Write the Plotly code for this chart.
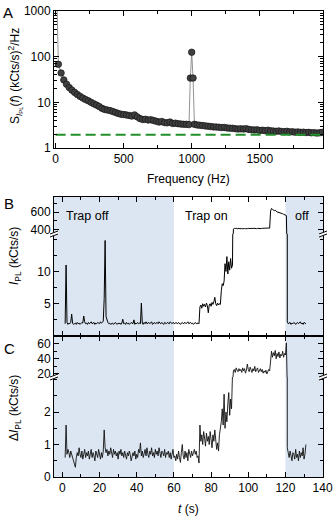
import plotly.graph_objects as go

FONT = "Liberation Sans, Arial, sans-serif"

# ---- panel A: noise spectrum ----
freq = [8,
        20, 40, 60, 80, 100, 120, 140, 160, 180, 200,
        220, 240, 260, 280, 300, 320, 340, 360, 380, 400,
        420, 440, 460, 480, 500, 520, 540, 560, 580, 600,
        620, 640, 660, 680, 700, 720, 740, 760, 780, 800,
        820, 840, 860, 880, 900, 920, 940, 960, 980,
        990, 1000, 1010,
        1020, 1040, 1060, 1080, 1100, 1120, 1140, 1160, 1180, 1200,
        1220, 1240, 1260, 1280, 1300, 1320, 1340, 1360, 1380, 1400,
        1420, 1440, 1460, 1480, 1500, 1520, 1540, 1560, 1580, 1600,
        1620, 1640, 1660, 1680, 1700, 1720, 1740, 1760, 1780, 1800,
        1820, 1840, 1860, 1880, 1900, 1920, 1940, 1960]
psd = [3000,
       68, 44, 31, 25, 21, 18.5, 16.5, 14.8, 13.5, 12.4,
       11.5, 10.8, 10.0, 9.3, 8.7, 8.1, 7.4, 7.0, 6.8, 6.6,
       6.3, 6.0, 5.7, 5.5, 5.4, 5.3, 5.15, 5.0, 5.3, 4.8,
       4.4, 4.2, 4.25, 4.1, 4.15, 4.0, 3.85, 3.7, 3.8, 3.6,
       3.55, 3.7, 3.45, 3.5, 3.4, 3.35, 3.3, 3.3, 3.25,
       34, 125, 34,
       3.3, 3.2, 3.15, 3.1, 3.05, 3.0, 2.95, 2.9, 2.88, 2.85,
       2.8, 2.82, 2.75, 2.72, 2.7, 2.65, 2.6, 2.63, 2.6, 2.65,
       2.55, 2.5, 2.48, 2.5, 2.42, 2.45, 2.4, 2.45, 2.38, 2.35,
       2.32, 2.36, 2.3, 2.28, 2.32, 2.25, 2.27, 2.22, 2.25, 2.2,
       2.22, 2.18, 2.2, 2.15, 2.17, 2.12, 2.15, 2.2]
shot_noise_level = 1.95
freq_span = [0, 1965]

# ---- panels B and C: time traces ----
t = [1.5, 2.0, 2.5, 3.0, 3.5, 4.0, 4.5, 5.0, 5.5, 6.0,
     6.5, 7.0, 7.5, 8.0, 8.5, 9.0, 9.5, 10.0, 10.5, 11.0,
     11.5, 12.0, 12.5, 13.0, 13.5, 14.0, 14.5, 15.0, 15.5, 16.0,
     16.5, 17.0, 17.5, 18.0, 18.5, 19.0, 19.5, 20.0, 20.5, 21.0,
     21.5, 22.0, 22.5, 23.0, 23.5, 24.0, 24.5, 25.0, 25.5, 26.0,
     26.5, 27.0, 27.5, 28.0, 28.5, 29.0, 29.5, 30.0, 30.5, 31.0,
     31.5, 32.0, 32.5, 33.0, 33.5, 34.0, 34.5, 35.0, 35.5, 36.0,
     36.5, 37.0, 37.5, 38.0, 38.5, 39.0, 39.5, 40.0, 40.5, 41.0,
     41.5, 42.0, 42.5, 43.0, 43.5, 44.0, 44.5, 45.0, 45.5, 46.0,
     46.5, 47.0, 47.5, 48.0, 48.5, 49.0, 49.5, 50.0, 50.5, 51.0,
     51.5, 52.0, 52.5, 53.0, 53.5, 54.0, 54.5, 55.0, 55.5, 56.0,
     56.5, 57.0, 57.5, 58.0, 58.5, 59.0, 59.5, 60.0, 60.5, 61.0,
     61.5, 62.0, 62.5, 63.0, 63.5, 64.0, 64.5, 65.0, 65.5, 66.0,
     66.5, 67.0, 67.5, 68.0, 68.5, 69.0, 69.5, 70.0, 70.5, 71.0,
     71.5, 72.0, 72.5, 73.0, 73.5, 74.0, 74.5, 75.0, 75.5, 76.0,
     76.5, 77.0, 77.5, 78.0, 78.5, 79.0, 79.5, 80.0, 80.5, 81.0,
     81.5, 82.0, 82.5, 83.0, 83.5, 84.0, 84.5, 85.0, 85.5, 86.0,
     86.5, 87.0, 87.5, 88.0, 88.5, 89.0, 89.5, 90.0, 90.5, 91.0,
     91.5, 92.0, 92.5, 93.0, 93.5, 94.0, 94.5, 95.0, 95.5, 96.0,
     96.5, 97.0, 97.5, 98.0, 98.5, 99.0, 99.5, 100.0, 100.5, 101.0,
     101.5, 102.0, 102.5, 103.0, 103.5, 104.0, 104.5, 105.0, 105.5, 106.0,
     106.5, 107.0, 107.5, 108.0, 108.5, 109.0, 109.5, 110.0, 110.5, 111.0,
     111.5, 112.0, 112.5, 113.0, 113.5, 114.0, 114.5, 115.0, 115.5, 116.0,
     116.5, 117.0, 117.5, 118.0, 118.5, 119.0, 119.5, 120.0, 120.5, 121.0,
     121.5, 122.0, 122.5, 123.0, 123.5, 124.0, 124.5, 125.0, 125.5, 126.0,
     126.5, 127.0, 127.5, 128.0, 128.5, 129.0, 129.5, 130.0, 130.5, 131.0]

ipl = [1.9, 11.0, 2.1, 1.8, 2.0, 1.9, 2.1, 3.4, 2.0, 1.8,
       1.9, 2.0, 1.8, 2.1, 1.9, 2.0, 1.8, 1.9, 2.1, 2.0,
       3.1, 2.2, 1.9, 2.0, 1.8, 2.1, 1.9, 2.0, 2.2, 1.9,
       2.0, 2.1, 1.8, 2.0, 1.9, 2.1, 2.0, 1.9, 2.2, 2.0,
       2.1, 2.3, 5.8, 14.8, 3.0, 2.3, 2.1, 1.9, 2.0, 1.8,
       1.9, 2.0, 1.8, 1.9, 2.1, 1.9, 1.8, 2.0, 1.9, 2.0,
       1.8, 2.0, 2.6, 1.9, 2.0, 1.8, 2.1, 1.9, 2.0, 1.8,
       1.9, 2.1, 2.0, 1.9, 2.5, 1.8, 2.0, 1.9, 2.1, 1.9,
       2.0, 1.9, 5.1, 2.0, 1.8, 2.1, 1.9, 2.2, 1.9, 2.0,
       2.1, 1.9, 2.0, 2.2, 1.8, 2.0, 2.1, 1.9, 2.0, 2.1,
       1.9, 2.2, 2.0, 1.9, 2.1, 2.0, 1.8, 2.1, 2.0, 1.9,
       2.1, 2.0, 1.9, 2.2, 2.0, 1.9, 2.1, 2.0, 1.9, 2.1,
       2.0, 1.9, 2.1, 2.0, 1.8, 2.0, 2.1, 1.9, 2.0, 2.1,
       1.9, 2.0, 2.2, 1.9, 2.0, 2.1, 1.9, 2.0, 1.8, 2.0,
       2.1, 1.9, 2.0, 2.0, 1.9, 4.5, 4.8, 4.3, 5.0, 4.6,
       4.9, 4.5, 5.1, 4.7, 3.6, 4.8, 5.0, 4.6, 5.2, 4.9,
       5.3, 6.0, 5.0, 4.7, 5.1, 4.8, 5.0, 4.9, 7.0, 8.1,
       7.8, 8.5, 11.2, 10.0, 12.3, 9.6, 11.5, 10.2, 12.0, 10.5,
       11.0, 410, 418, 415, 420, 412, 416, 419, 414, 417,
       415, 413, 418, 416, 414, 419, 415, 417, 413, 416,
       418, 414, 416, 419, 415, 417, 414, 418, 416, 420,
       417, 415, 419, 416, 418, 421, 417, 419, 422, 418,
       420, 610, 640, 630, 625, 615, 620, 605, 600, 598,
       596, 590, 588, 585, 580, 575, 570, 568, 560, 2.2,
       1.9, 2.0, 2.1, 1.8, 2.0, 1.9, 2.1, 2.0, 1.8, 2.0,
       2.1, 1.9, 2.0, 2.2, 1.9, 2.0, 1.8, 2.1, 2.0, 1.9]

dipl = [0.6, 1.6, 0.7, 0.85, 0.75, 0.6, 0.8, 0.7, 0.65, 0.55,
        0.45, 0.3, 0.6, 0.75, 0.65, 0.9, 0.7, 0.6, 0.8, 0.55,
        0.7, 0.85, 0.6, 0.75, 0.65, 0.8, 0.55, 0.7, 0.85, 0.6,
        0.75, 0.65, 0.5, 0.8, 0.7, 0.6, 0.85, 0.65, 0.55, 0.75,
        0.6, 0.8, 1.45, 0.9, 0.75, 0.85, 0.65, 0.8, 0.7, 0.9,
        0.75, 0.6, 0.85, 0.7, 0.8, 0.65, 0.75, 0.55, 0.8, 0.7,
        0.85, 0.65, 0.75, 0.6, 0.8, 0.7, 0.55, 0.75, 0.65, 0.8,
        0.7, 0.5, 0.6, 0.75, 0.65, 0.8, 0.55, 0.7, 0.6, 0.85,
        0.75, 1.05, 0.65, 0.8, 0.6, 0.75, 0.85, 0.65, 0.9, 0.7,
        0.6, 0.8, 0.7, 0.9, 0.65, 0.75, 0.6, 0.85, 0.7, 0.8,
        0.65, 0.9, 0.7, 0.6, 0.8, 0.75, 0.65, 0.85, 0.6, 0.75,
        0.7, 0.8, 0.6, 0.75, 0.55, 0.7, 0.85, 0.6, 0.65, 0.5,
        0.7, 0.55, 0.8, 0.6, 0.45, 0.75, 1.0, 0.65, 0.55, 0.8,
        0.6, 0.75, 0.5, 0.85, 0.7, 0.6, 0.8, 0.65, 0.75, 0.85,
        0.7, 0.8, 0.6, 0.65, 0.43, 1.6, 1.1, 1.3, 1.0, 1.4,
        1.2, 0.95, 1.35, 1.1, 1.25, 1.0, 1.4, 1.15, 0.9, 1.3,
        1.1, 1.45, 1.2, 0.85, 1.05, 0.8, 1.3, 1.5, 1.7, 2.1,
        1.6, 2.55, 1.5, 2.0, 1.7, 2.25, 2.6, 1.9, 2.4, 2.1,
        2.8, 24, 26, 22, 28, 25, 23, 27, 24, 26,
        22, 28, 24, 27, 21, 25, 33, 26, 23, 29,
        25, 22, 27, 24, 30, 23, 26, 28, 22, 25,
        27, 23, 26, 21, 24, 22, 25, 20, 23, 26,
        24, 45, 50, 42, 48, 44, 51, 40, 47, 43,
        49, 41, 46, 44, 50, 42, 47, 45, 61, 0.9,
        0.75, 0.6, 0.8, 0.65, 0.5, 0.75, 0.7, 0.55, 0.85, 0.6,
        0.7, 0.5, 0.8, 0.6, 0.75, 0.65, 0.9, 0.55, 0.7, 1.0]

trap_off_spans = [(-4.5, 60), (120, 140.2)]
region_labels = ["Trap off", "Trap on", "off"]
region_label_t = [13.7, 77.5, 129]
t_ticks = [0, 20, 40, 60, 80, 100, 120, 140]

# pixel layout (page body margin is removed below, so these are screen pixels)
LEFT, RIGHT, TOP, BOT = 54, 323, 11, 477
W, H = 335, 520


def yp(py):
    return (BOT - py) / (BOT - TOP)


def xp(px):
    return (px - LEFT) / (RIGHT - LEFT)


A_DOM = [yp(148), yp(11)]
B_UP = [yp(234), yp(197)]
B_LO = [yp(336), yp(234)]
C_UP = [yp(377), yp(336)]
C_LO = [0, yp(377)]

T_RANGE = [-4.5, 140.2]

axis_style = dict(showline=True, linecolor="black", linewidth=1, ticks="inside",
                  ticklen=5, tickcolor="black", showgrid=False, zeroline=False,
                  ticklabeloverflow="allow",
                  tickfont=dict(size=12, color="black", family=FONT))

fig = go.Figure()

fig.add_trace(go.Scatter(x=freq, y=psd, mode="lines+markers", xaxis="x", yaxis="y",
                         line=dict(color="#777777", width=0.8),
                         marker=dict(size=6.5, color="#404040", line=dict(color="#151515", width=0.7))))
fig.add_trace(go.Scatter(x=freq_span, y=[shot_noise_level] * 2, mode="lines", xaxis="x", yaxis="y",
                         line=dict(color="#22902a", width=2, dash="10px,5px")))

for xa, ya in [("x2", "y2"), ("x4", "y3")]:
    fig.add_trace(go.Scatter(x=t, y=ipl, mode="lines", xaxis=xa, yaxis=ya,
                             line=dict(color="black", width=1)))
for xa, ya in [("x3", "y4"), ("x5", "y5")]:
    fig.add_trace(go.Scatter(x=t, y=dipl, mode="lines", xaxis=xa, yaxis=ya,
                             line=dict(color="#111111", width=0.9)))

t_minor = dict(dtick=10, tick0=0, ticks="inside", ticklen=3, tickcolor="black")

fig.update_layout(
    width=W, height=H,
    margin=dict(l=LEFT, r=W - RIGHT, t=TOP, b=H - BOT, autoexpand=False),
    paper_bgcolor="white", plot_bgcolor="rgba(0,0,0,0)",
    showlegend=False,
    font=dict(family=FONT, size=12, color="black"),
    xaxis=dict(axis_style, anchor="y", range=[-12, 1965], mirror="ticks",
               tickvals=[0, 500, 1000, 1500],
               minor=dict(dtick=250, tick0=0, ticks="inside", ticklen=3, tickcolor="black")),
    yaxis=dict(axis_style, domain=A_DOM, anchor="x", type="log", range=[0, 3], mirror="ticks",
               dtick=1, exponentformat="none",
               minor=dict(dtick="D1", ticks="inside", ticklen=3, tickcolor="black")),
    xaxis2=dict(axis_style, anchor="y2", range=T_RANGE, tickvals=t_ticks,
                showticklabels=False, minor=t_minor),
    xaxis4=dict(axis_style, anchor="y3", range=T_RANGE, tickvals=t_ticks, side="top",
                showticklabels=False, minor=t_minor),
    yaxis2=dict(axis_style, domain=B_LO, anchor="x2", range=[0, 15.8], mirror="ticks",
                tickvals=[5, 10],
                minor=dict(dtick=2.5, tick0=0, ticks="inside", ticklen=3, tickcolor="black")),
    yaxis3=dict(axis_style, domain=B_UP, anchor="x4", range=[355, 767], mirror="ticks",
                tickvals=[400, 600],
                minor=dict(dtick=100, tick0=0, ticks="inside", ticklen=3, tickcolor="black")),
    xaxis3=dict(axis_style, anchor="y4", range=T_RANGE, tickvals=t_ticks, minor=t_minor),
    xaxis5=dict(axis_style, anchor="y5", range=T_RANGE, tickvals=t_ticks, side="top",
                showticklabels=False, minor=t_minor),
    yaxis4=dict(axis_style, domain=C_LO, anchor="x3", range=[0, 3.08], mirror="ticks",
                tickvals=[0, 1, 2],
                minor=dict(dtick=0.5, tick0=0, ticks="inside", ticklen=3, tickcolor="black")),
    yaxis5=dict(axis_style, domain=C_UP, anchor="x5", range=[16, 70], mirror="ticks",
                tickvals=[20, 40, 60],
                minor=dict(dtick=10, tick0=0, ticks="inside", ticklen=3, tickcolor="black")),
)

# shaded "trap off" intervals
for xref, y0, y1 in [("x2", B_LO[0], B_UP[1]), ("x3", C_LO[0], C_UP[1])]:
    for a, b in trap_off_spans:
        fig.add_shape(type="rect", xref=xref, yref="paper", x0=a, x1=b, y0=y0, y1=y1,
                      fillcolor="#dce6f2", line=dict(width=0), layer="below")

# axis break marks
for yb in [B_LO[1], C_LO[1]]:
    for xa in [0, 1]:
        common = dict(type="line", xref="paper", yref="paper", xsizemode="pixel", ysizemode="pixel",
                      xanchor=xa, yanchor=yb)
        fig.add_shape(**common, x0=-4, x1=4, y0=-1.5, y1=1.5, line=dict(color="white", width=3))
        fig.add_shape(**common, x0=-4, x1=4, y0=-3, y1=0, line=dict(color="black", width=1))
        fig.add_shape(**common, x0=-4, x1=4, y0=0, y1=3, line=dict(color="black", width=1))

centered = dict(showarrow=False, xanchor="center", yanchor="middle")

# region labels
for txt, tx in zip(region_labels, region_label_t):
    fig.add_annotation(text=txt, xref="x2", yref="paper", x=tx, y=yp(216),
                       font=dict(size=12.5), **centered)

# x titles
for txt, py in [("Frequency (Hz)", 179), ("<i>t</i> (s)", 509)]:
    fig.add_annotation(text=txt, xref="paper", yref="paper", x=0.5, y=yp(py),
                       font=dict(size=12), **centered)

# y titles
y_titles = [
    ("S<sub><i>I</i><sub>PL</sub></sub>(<i>f</i>) (kCts/s)<sup>2</sup>/Hz", yp(76)),
    ("<i>I</i><sub>PL</sub> (kCts/s)", yp(256)),
    ("Δ<i>I</i><sub>PL</sub> (kCts/s)", yp(408)),
]
for txt, y in y_titles:
    fig.add_annotation(text=txt, xref="paper", yref="paper", x=xp(15), y=y,
                       textangle=-90, font=dict(size=12), **centered)

# panel letters
for letter, px, py in [("A", 8, 12), ("B", 9, 203), ("C", 9, 348)]:
    fig.add_annotation(text=letter, xref="paper", yref="paper", x=xp(px), y=yp(py),
                       font=dict(size=15), **centered)

# the default page has an 8 px body margin; drop it so the figure sits at the window corner
fig.write_html("out.html", config={"displayModeBar": False},
               post_script="document.body.style.margin = '0';")
